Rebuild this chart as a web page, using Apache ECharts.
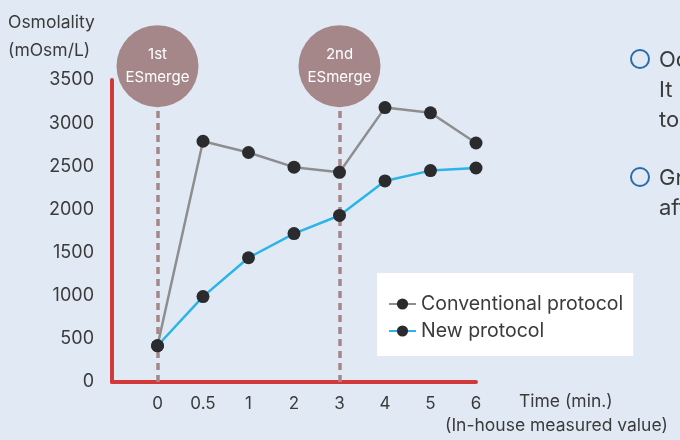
<!DOCTYPE html>
<html>
<head>
<meta charset="utf-8">
<script src="https://cdn.jsdelivr.net/npm/echarts@6/dist/echarts.min.js"></script>
<style>
  html, body { margin: 0; padding: 0; background: #e1eaf4; }
  #chart { width: 680px; height: 440px; }
</style>
</head>
<body>
<div id="chart"></div>
<script>
// data
const times        = ['0', '0.5', '1', '2', '3', '4', '5', '6'];
const conventional = [420, 2790, 2660, 2490, 2430, 3180, 3120, 2770];
const newProtocol  = [420, 990, 1440, 1720, 1930, 2330, 2450, 2480];
const yTicks       = [0, 500, 1000, 1500, 2000, 2500, 3000, 3500];
const mergeTimes   = ['0', '3'];
const mergeNames   = ['1st', '2nd'];

const font  = 'Inter';
const ink   = '#3b3b3b';
const red   = '#d1393b';
const mauve = '#a5878a';

function init() {
    const chart = echarts.init(document.getElementById('chart'), null, { renderer: 'canvas' });

    // dashed line from the axis up to the bottom of each circle
    const markLines = mergeTimes.map(function (t) {
        return [{ coord: [t, 0] }, { coord: [t, 3185] }];
    });

    const option = {
        backgroundColor: '#e1eaf4',
        animation: false,
        textStyle: { fontFamily: font, color: ink },
        grid: { left: 112, right: 204, top: 80, bottom: 58 },
        legend: {
            orient: 'vertical',
            left: 377, top: 273,
            padding: [21, 10, 15, 11],
            backgroundColor: '#ffffff',
            itemWidth: 27, itemHeight: 14, itemGap: 7,
            textStyle: { fontFamily: font, fontSize: 19.5, color: ink },
            data: ['Conventional protocol', 'New protocol']
        },
        xAxis: {
            type: 'category',
            boundaryGap: false,
            data: [''].concat(times),
            axisLine: { lineStyle: { color: red, width: 4 } },
            axisTick: { show: false },
            axisLabel: { fontFamily: font, fontSize: 17, color: ink, margin: 13 },
            splitLine: { show: false }
        },
        yAxis: {
            type: 'value',
            min: yTicks[0], max: yTicks[yTicks.length - 1], interval: 500,
            axisLine: { show: true, lineStyle: { color: red, width: 4 } },
            axisTick: { show: false },
            axisLabel: { fontFamily: font, fontSize: 18, color: ink, margin: 18,
                         formatter: function (v) { return String(v); } },
            splitLine: { show: false }
        },
        graphic: [
            { type: 'text', left: 8, top: 9,
              style: { text: 'Osmolality\n(mOsm/L)', font: '17.5px ' + font, fill: ink, lineHeight: 28 } },
            { type: 'text', left: 519, top: 393,
              style: { text: 'Time (min.)', font: '17.5px ' + font, fill: ink } },
            { type: 'text', left: 445, top: 417,
              style: { text: '(In-house measured value)', font: '17.5px ' + font, fill: ink } },
            { type: 'circle', shape: { cx: 640, cy: 59, r: 9 },
              style: { fill: 'none', stroke: '#2a6cab', lineWidth: 2 } },
            { type: 'circle', shape: { cx: 640, cy: 177, r: 9 },
              style: { fill: 'none', stroke: '#2a6cab', lineWidth: 2 } },
            { type: 'text', left: 659, top: 45,
              style: { text: 'Occurs suddenly\nIt places a burden\nto the cells', font: '22px ' + font, fill: ink, lineHeight: 30 } },
            { type: 'text', left: 659, top: 163,
              style: { text: 'Gradual increase\nafter each merge', font: '22px ' + font, fill: ink, lineHeight: 30 } }
        ],
        series: [
            {
                name: 'Conventional protocol',
                type: 'line',
                data: times.map(function (t, i) { return [t, conventional[i]]; }),
                symbol: 'circle', symbolSize: 13,
                itemStyle: { color: '#2b2b2d' },
                lineStyle: { color: '#8e8e8e', width: 2.5 },
                z: 5,
                markLine: {
                    silent: true, symbol: 'none', z: 1,
                    lineStyle: { color: mauve, width: 3.5, type: [7, 5] },
                    label: { show: false },
                    data: markLines
                }
            },
            {
                name: 'New protocol',
                type: 'line',
                data: times.map(function (t, i) { return [t, newProtocol[i]]; }),
                symbol: 'circle', symbolSize: 13,
                itemStyle: { color: '#2b2b2d' },
                lineStyle: { color: '#2ab4e8', width: 2.5 },
                z: 6
            }
        ]
    };

    chart.setOption(option);

    // "ESmerge" circles sit above the top of the axis, so place them
    // through the axis scale once the chart is laid out
    const bubbles = mergeTimes.map(function (t, i) {
        const p = chart.convertToPixel({ xAxisIndex: 0, yAxisIndex: 0 }, [t, 3660]);
        return {
            type: 'circle',
            shape: { cx: p[0], cy: p[1], r: 41 },
            style: { fill: mauve },
            textContent: {
                style: { text: mergeNames[i] + '\nESmerge', fill: '#ffffff',
                         font: '15px ' + font, lineHeight: 23, align: 'center' }
            },
            textConfig: { position: 'inside' }
        };
    });
    chart.setOption({ graphic: option.graphic.concat(bubbles) });
}

init();
</script>
</body>
</html>
